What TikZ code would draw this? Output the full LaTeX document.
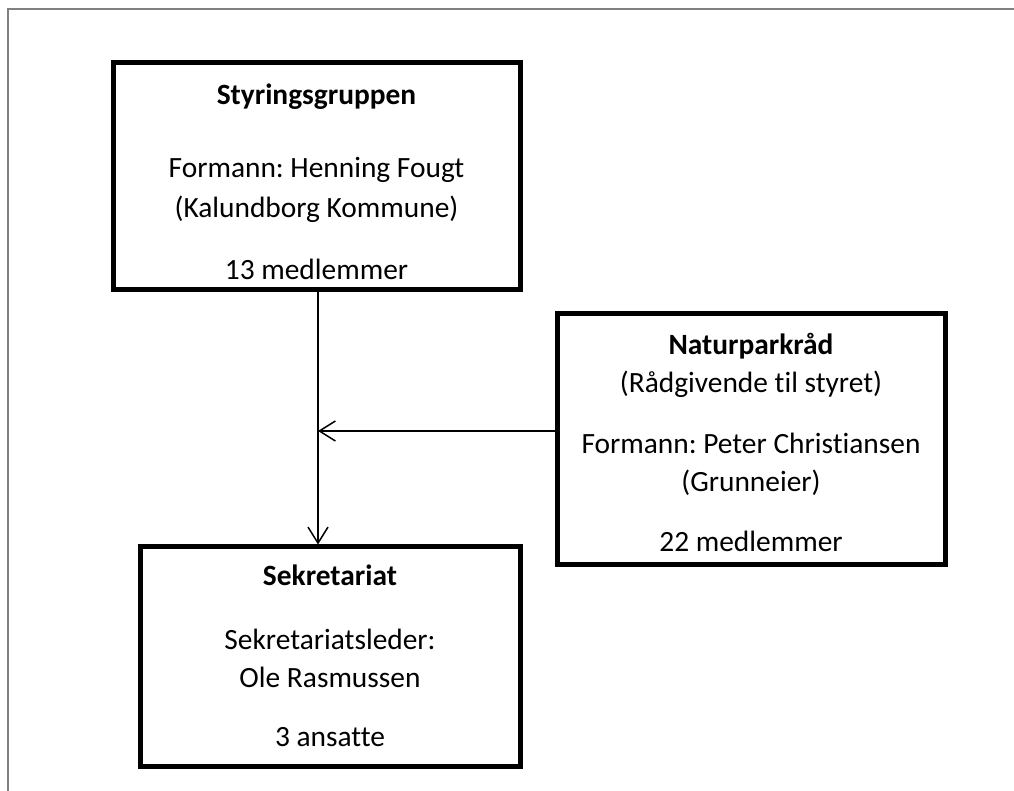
\documentclass[tikz,border=0pt]{standalone}
\usepackage{fontspec}
\setmainfont{Carlito}[Ligatures=NoCommon]
\frenchspacing
\usetikzlibrary{arrows.meta}
\tikzset{
  boks/.style={draw, rectangle, line width=2.5pt, inner sep=0pt},
  tekst/.style={align=center, anchor=base, inner sep=0pt, font=\fontsize{14.7}{19}\selectfont},
  pil/.style={-{Straight Barb[length=8pt,width=10pt]}, line width=0.75pt},
}
\begin{document}
\begin{tikzpicture}[x=0.5pt,y=-0.5pt]
  \useasboundingbox (0,0) rectangle (1014,791);
  % ramme
  \draw[gray, line width=0.6pt] (8,791) -- (8,9) -- (1014,9);
  % boksene
  \node[boks, minimum width=203.5pt, minimum height=113.5pt] (styr) at (316.5,176.5) {};
  \node[boks, minimum width=194pt, minimum height=125.5pt] (natur) at (751,439.5) {};
  \node[boks, minimum width=190pt, minimum height=110pt] (sekr) at (330,657) {};
  % tekstene (ankret i siste linje)
  \node[tekst] (styr-tekst) at (316.5,280) {\textbf{Styringsgruppen}\\[17.5pt]
    Formann: Henning Fougt\\[1pt] (Kalundborg Kommune)\\[12pt] 13 medlemmer};
  \node[tekst] (natur-tekst) at (751,552) {\textbf{Naturparkråd}\\
    (Rådgivende til styret)\\[11.5pt] Formann: Peter Christiansen\\
    (Grunneier)\\[11pt] 22 medlemmer};
  \node[tekst] (sekr-tekst) at (330,747) {\textbf{Sekretariat}\\[13.5pt]
    Sekretariatsleder:\\ Ole Rasmussen\\[10.5pt] 3 ansatte};
  % pilene
  \coordinate (moete) at (318,431);
  \draw[pil] (styr.south -| moete) -- (sekr.north -| moete);
  \draw[pil] (natur.west |- moete) -- (moete);
\end{tikzpicture}
\end{document}
